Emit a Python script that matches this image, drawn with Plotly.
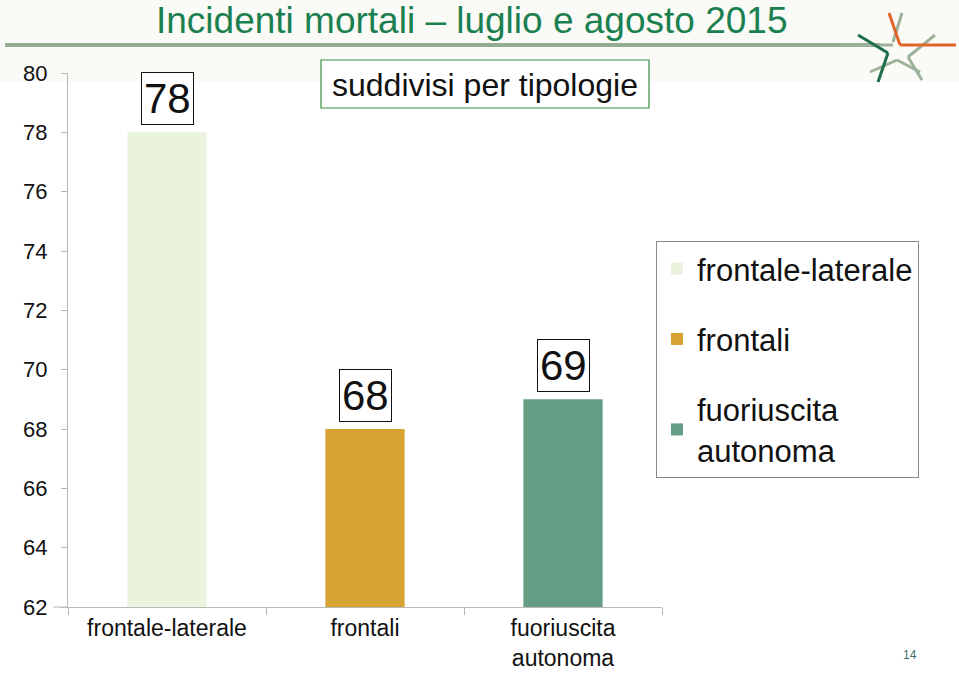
import plotly.graph_objects as go

categories = ["frontale-laterale", "frontali", "fuoriuscita<br>autonoma"]
values = [78, 68, 69]
colors = ["#EAF3DD", "#D6A232", "#629D84"]
yticks = [62, 64, 66, 68, 70, 72, 74, 76, 78, 80]

W, H = 959, 675
L, R, T, B = 68, 662, 73, 607


def px(x):
    return (x - L) / (R - L)


def py(y):
    return (B - y) / (B - T)


fig = go.Figure()
for c, v, col in zip(categories, values, colors):
    fig.add_trace(go.Bar(x=[c], y=[v], name=c, marker_color=col, width=0.4,
                         legendgroup=c, marker_line_width=0))
    fig.add_annotation(x=c, y=v, text=str(v), showarrow=False, yanchor="bottom",
                       yshift=7, font=dict(size=42, color="#111", family="Liberation Sans"),
                       bgcolor="white", bordercolor="#111", borderwidth=1, borderpad=2)

shapes = []
# top band
shapes.append(dict(type="rect", xref="paper", yref="paper", x0=px(0), x1=px(W), y0=py(0), y1=py(82),
                   fillcolor="#FAFAF7", line_width=0, layer="below"))
# title rule
shapes.append(dict(type="line", xref="paper", yref="paper", x0=px(5), x1=px(880), y0=py(45), y1=py(45),
                   line=dict(color="#94AC8F", width=4)))
# axis extension
shapes.append(dict(type="line", xref="paper", yref="paper", x0=px(53), x1=px(68), y0=0, y1=0,
                   line=dict(color="#B8B8B8", width=1)))
# subtitle box
shapes.append(dict(type="rect", xref="paper", yref="paper", x0=px(321), x1=px(649), y0=py(60), y1=py(108),
                   fillcolor="white", line=dict(color="#3A8A45", width=1.2)))
# logo
logo_lines = [
    ((840, 45), (893, 45), "#9DB29A"),
    ((902, 13), (893, 42), "#9DB29A"),
    ((935, 35), (908, 57), "#9DB29A"),
    ((908, 57), (922, 80), "#9DB29A"),
    ((870, 72), (897, 60), "#9DB29A"),
    ((897, 60), (920, 72), "#9DB29A"),
    ((889, 13), (900, 45), "#E0642A"),
    ((900, 45), (956, 45), "#E0642A"),
    ((858, 35), (888, 53), "#1F6E4A"),
    ((888, 53), (878, 82), "#1F6E4A"),
]
for (x0, y0), (x1, y1), col in logo_lines:
    shapes.append(dict(type="line", xref="paper", yref="paper", x0=px(x0), y0=py(y0), x1=px(x1), y1=py(y1),
                       line=dict(color=col, width=3)))

fig.add_annotation(xref="paper", yref="paper", x=px(471), y=py(20), text="Incidenti mortali – luglio e agosto 2015",
                   showarrow=False, font=dict(size=37, color="#1B8050", family="Liberation Sans"),
                   xanchor="center", yanchor="middle")
fig.add_annotation(xref="paper", yref="paper", x=px(485), y=py(85), text="suddivisi per tipologie",
                   showarrow=False, font=dict(size=32, color="#111", family="Liberation Sans"),
                   xanchor="center", yanchor="middle")
fig.add_annotation(xref="paper", yref="paper", x=px(919), y=py(664), text="14", showarrow=False,
                   font=dict(size=12, color="#3C6C6A", family="Liberation Sans"))

fig.update_layout(
    width=W, height=H,
    margin=dict(l=L, r=W - R, t=T, b=H - B, autoexpand=False),
    paper_bgcolor="white", plot_bgcolor="white",
    barmode="overlay",
    shapes=shapes,
    font=dict(family="Liberation Sans", color="#111"),
    legend=dict(x=px(656), y=py(241), xanchor="left", yanchor="top",
                font=dict(size=31, color="#111"), bordercolor="#8A8A8A", borderwidth=1,
                bgcolor="white", tracegroupgap=27, traceorder="grouped", itemwidth=30),
    xaxis=dict(showline=True, linecolor="#B8B8B8", ticks="outside", tickson="boundaries",
               ticklen=7, tickcolor="#B8B8B8", tickfont=dict(size=23, color="#111"), showgrid=False,
               ticklabelstandoff=0),
    yaxis=dict(range=[62, 80], tickvals=yticks, showline=True, linecolor="#B8B8B8", ticks="outside",
               ticklen=6, tickcolor="#B8B8B8", tickfont=dict(size=22, color="#111"), showgrid=False,
               zeroline=False, ticklabelstandoff=9),
)
fig.write_html("out.html")
